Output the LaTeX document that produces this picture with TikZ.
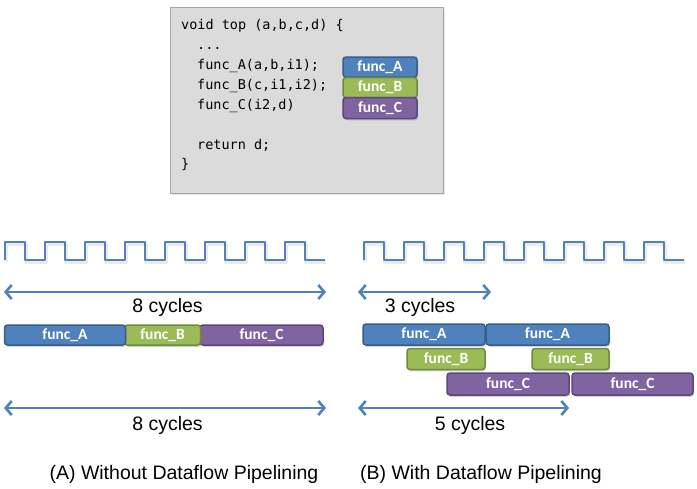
\documentclass[tikz,border=0pt]{standalone}
\usepackage{fontspec}
\setmainfont{Liberation Sans}
\newfontfamily\barfont{Carlito}
\newfontfamily\codefont{DejaVu Sans Mono}
\usetikzlibrary{arrows.meta,shadows}
\definecolor{cblue}{HTML}{4F81BD}
\definecolor{bluefill}{HTML}{4F81BD}
\definecolor{blueedge}{HTML}{385D8A}
\definecolor{greenfill}{HTML}{9BBB59}
\definecolor{greenedge}{HTML}{71893F}
\definecolor{purplefill}{HTML}{8064A2}
\definecolor{purpleedge}{HTML}{5C4776}
\definecolor{codebg}{HTML}{DBDBDB}
\definecolor{codeedge}{HTML}{A6A6A6}
\tikzset{
  bar/.style={rectangle, rounded corners=3pt, line width=1.5pt, text=white,
    font=\barfont\bfseries\fontsize{15.5}{16}\selectfont, inner sep=0pt,
    drop shadow={opacity=0.35, shadow xshift=1.2pt, shadow yshift=-1.8pt}},
  barA/.style={bar, fill=bluefill, draw=blueedge},
  barB/.style={bar, fill=greenfill, draw=greenedge},
  barC/.style={bar, fill=purplefill, draw=purpleedge},
  codeline/.style={anchor=base west, inner sep=0pt, font=\codefont\fontsize{13.5}{15}\selectfont, text=black},
  clockline/.style={draw=cblue, line width=2.6pt, line join=round},
  clockshadow/.style={draw=black, opacity=0.08, line width=4pt, line join=round},
  dimline/.style={draw=cblue, line width=2.6pt, {Straight Barb[length=6pt,width=14pt]}-{Straight Barb[length=6pt,width=14pt]}},
  label/.style={anchor=base, inner sep=0pt, font=\fontsize{19.5}{22}\selectfont},
}
\begin{document}
\begin{tikzpicture}[x=1pt,y=-1pt]
\useasboundingbox (0,0) rectangle (697,488);
\fill[white] (0,0) rectangle (697,488);

% code box
\node[draw=codeedge, fill=codebg, line width=1pt, minimum width=273pt, minimum height=186pt, inner sep=0pt,
  drop shadow={opacity=0.2, shadow xshift=1.5pt, shadow yshift=-1.5pt}] (codebox) at (306.5,100) {};
\node[codeline] (c1) at (181,29) {void top (a,b,c,d) \{};
\node[codeline] (c2) at (197,49) {...};
\node[codeline] (c3) at (197,69) {func\_A(a,b,i1);};
\node[codeline] (c4) at (197,89) {func\_B(c,i1,i2);};
\node[codeline] (c5) at (197,109) {func\_C(i2,d)};
\node[codeline] (c6) at (197,149) {return d;};
\node[codeline] (c7) at (181,168) {\}};

\node[barA, minimum width=74pt, minimum height=20pt] (kA) at (380,67) {func\_A};
\node[barB, minimum width=74pt, minimum height=20pt] (kB) at (380,87.5) {func\_B};
\node[barC, minimum width=74pt, minimum height=21pt] (kC) at (380,108) {func\_C};

% clocks
\foreach \xo/\nm in {5/L,364/R}{
  \draw[clockshadow] ({\xo+1},262) \foreach \i in {0,...,7}{
     -- ({\xo+1+40*\i},244) -- ({\xo+21+40*\i},244) -- ({\xo+21+40*\i},262) -- ({\xo+41+40*\i},262)};
  \draw[clockline] (\xo,260) \foreach \i in {0,...,7}{
     -- ({\xo+40*\i},242) -- ({\xo+20+40*\i},242) -- ({\xo+20+40*\i},260) -- ({\xo+40+40*\i},260)};
}

% dimension lines
\coordinate (t1a) at (4,292); \coordinate (t1b) at (326,292);
\coordinate (t2a) at (358,292); \coordinate (t2b) at (491,292);
\coordinate (b1a) at (4,408); \coordinate (b1b) at (326,408);
\coordinate (b2a) at (358,408); \coordinate (b2b) at (569,408);
\draw[dimline] (t1a) -- (t1b);
\draw[dimline] (t2a) -- (t2b);
\draw[dimline] (b1a) -- (b1b);
\draw[dimline] (b2a) -- (b2b);

\node[label] (l8a) at (167.5,312) {8 cycles};
\node[label] (l3) at (420,312) {3 cycles};
\node[label] (l8b) at (167.5,430) {8 cycles};
\node[label] (l5) at (470,430) {5 cycles};

% left (no pipelining)
\node[barC, minimum width=123pt, minimum height=20pt] (LC) at (261.5,335) {func\_C};
\node[barB, minimum width=76pt, minimum height=20pt] (LB) at (162.5,335) {func\_B};
\node[barA, minimum width=121pt, minimum height=20pt] (LA) at (65,335) {func\_A};

% right (pipelining)
\node[barA, minimum width=122pt, minimum height=21pt] (RA1) at (424,334.5) {func\_A};
\node[barA, minimum width=123pt, minimum height=21pt] (RA2) at (547.5,334.5) {func\_A};
\node[barB, minimum width=78pt, minimum height=21pt] (RB1) at (446,359) {func\_B};
\node[barB, minimum width=77pt, minimum height=21pt] (RB2) at (570.5,359) {func\_B};
\node[barC, minimum width=122pt, minimum height=22pt] (RC1) at (508,384) {func\_C};
\node[barC, minimum width=121pt, minimum height=22pt] (RC2) at (632.5,384) {func\_C};

% captions
\node[label] (capA) at (184,479) {(A) Without Dataflow Pipelining};
\node[label] (capB) at (481,479) {(B) With Dataflow Pipelining};
\end{tikzpicture}
\end{document}
